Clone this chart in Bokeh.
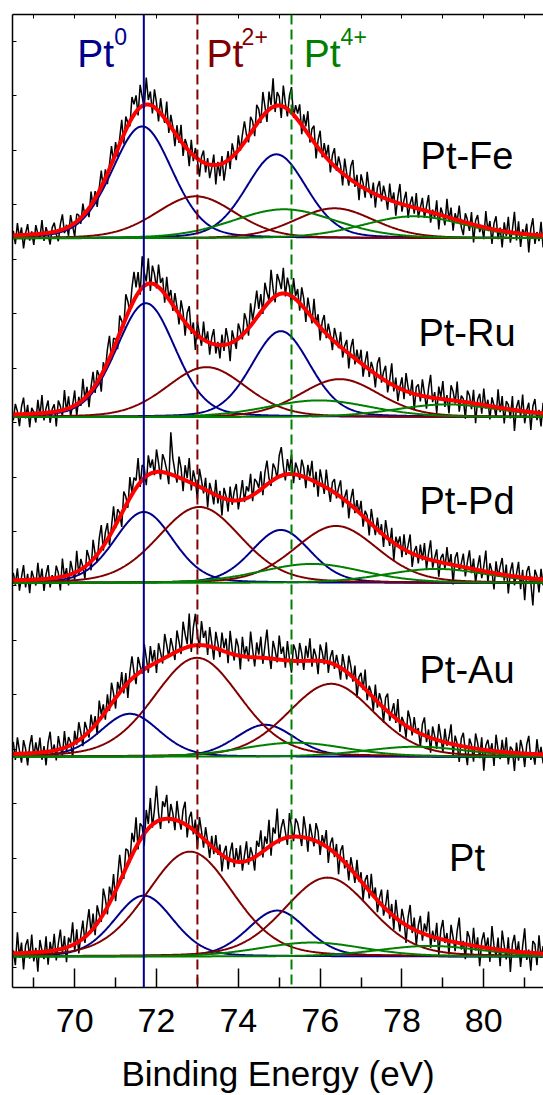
import numpy as np
from bokeh.plotting import figure
from bokeh.models import Range1d, FixedTicker, LinearAxis, Span, ColumnDataSource, CustomLabelingPolicy
from bokeh.embed import file_html
from bokeh.resources import INLINE
from bokeh.core.properties import value

FONT = "Liberation Sans"

# ---------------- data ----------------
samples = ["Pt-Fe", "Pt-Ru", "Pt-Pd", "Pt-Au", "Pt"]
offsets = [750, 571, 405, 231, 31]

# pseudo-Voigt fit components: (4f7/2, 4f5/2) centres, heights and FWHM
pt0_centers = [(71.65, 74.93), (71.74, 75.04), (71.69, 75.04), (71.35, 74.66), (71.69, 74.95)]
pt0_heights = [(112, 84), (114, 86), (71, 53), (43, 32), (61, 46)]
pt0_fwhm = [1.75, 1.7, 1.7, 1.7, 1.7]

pt2_centers = [(72.96, 76.35), (73.22, 76.48), (73.05, 76.39), (72.99, 76.27), (72.82, 76.18)]
pt2_heights = [(42, 30), (50, 38), (76, 57), (99, 73), (105, 79)]
pt2_fwhm = [2.3, 2.3, 2.4, 2.5, 2.5]

pt4_centers = [(75.12, 78.3), (75.97, 79.1), (75.8, 78.85), (75.38, 78.34), (75.8, 78.68)]
pt4_heights = [(29, 22), (16.7, 12.7), (19, 14), (14, 10), (14, 10.6)]
pt4_fwhm = [3.0, 3.0, 3.0, 3.0, 3.0]

# residuals of the measured spectra (data - fit), in steps of 1.5 intensity units,
# sampled every 0.05 eV from 68.5 eV
res_unit = 1.5
fe_res = [3,-6,8,-2,5,-9,1,7,-4,2,-7,6,0,-3,9,-5,4,-1,-8,3,
          6,-2,-7,4,10,-3,2,-6,7,-1,-9,5,3,-4,8,-2,1,-6,9,-3,
          5,-8,2,11,-4,6,-7,3,12,-2,8,-5,4,13,-6,9,2,-3,14,7,
          11,-4,15,6,-2,18,3,9,-5,12,4,-7,10,1,-3,13,-6,8,2,-9,
          7,-3,11,-8,5,2,-10,9,-4,6,-1,-11,3,8,-6,4,-9,-2,7,-13,
          2,-8,5,-12,-3,6,-7,9,1,-5,10,-2,7,14,3,-4,11,6,-6,13,
          8,-3,16,5,-7,12,2,19,-4,9,6,-8,14,3,-5,10,17,-2,8,4,
          12,-6,9,3,15,-4,7,11,-9,5,13,-3,8,1,10,-7,6,12,-2,9,
          4,-8,11,2,-5,9,14,-3,6,-10,8,3,-6,12,1,-4,7,-9,5,10,
          -3,8,2,-7,11,-1,6,-9,4,13,-5,3,9,-8,2,7,-4,10,-6,1,
          8,-5,3,11,-7,2,-3,9,-10,5,1,-6,12,-2,7,-8,4,-1,10,-4,
          -9,6,2,-5,8,-12,3,7,-4,1,-8,11,-2,5,-10,4,9,-6,2,-11,
          6,-3,10,-7,2,14,-5,8,-9,3,-1,7,-12,4,11,-6,2,-4,9,-8,5]
ru_res = [-4,7,2,-8,5,11,-3,6,-9,4,1,-6,9,-2,12,-5,3,8,-7,2,
          5,-10,7,3,-4,13,-2,8,-6,1,10,-8,4,-3,14,-1,6,-9,3,11,
          -5,8,2,-11,6,-2,9,15,-4,7,3,-7,12,5,-3,16,8,-2,11,19,
          6,14,-3,21,9,2,17,-5,12,7,-2,15,4,9,-6,13,1,8,-4,10,
          3,-7,11,5,-9,8,14,-3,6,-11,9,2,-5,12,-1,7,-8,4,10,-6,
          2,-9,7,-4,11,3,-12,8,1,-6,10,4,-3,13,7,-5,15,2,9,18,
          4,12,-3,16,8,1,20,6,-4,14,9,3,17,-2,11,5,-6,13,2,8,
          -5,12,6,-8,10,3,-4,14,-1,7,-9,5,11,-3,8,2,-7,9,4,-2,
          10,-6,3,8,-10,5,12,-4,7,-1,9,-8,3,11,-5,6,2,-9,8,13,
          -3,5,10,-7,2,14,-4,6,-9,1,8,-6,12,3,-2,9,-11,5,7,-4,
          11,2,-8,6,15,-3,4,-10,8,1,12,-5,3,-9,10,6,-2,13,-7,4,
          2,-11,8,5,-4,9,-13,3,7,-6,11,-2,4,-9,6,1,-7,12,-3,8,
          -10,5,3,-6,9,-14,2,7,-4,11,-8,1,6,-12,4,9,-5,2,-9,7,-3]
pd_res = [5,-3,8,-7,2,10,-5,4,-9,6,1,-4,11,-2,7,-8,3,9,-6,2,
          -4,8,3,-9,12,-1,5,-7,9,2,-5,14,-3,7,1,-8,10,4,-6,13,
          2,-5,9,16,-3,7,11,-6,4,15,-2,8,3,-9,12,6,-4,14,1,9,
          5,18,-3,10,7,-6,13,4,9,-2,15,6,-5,12,8,2,-7,28,11,3,
          -4,14,7,-8,10,2,16,-5,9,3,-9,12,5,-3,8,-11,6,1,-7,10,
          -5,4,-12,7,2,-8,9,-3,6,11,-6,3,13,-2,8,4,15,-4,10,7,
          2,12,-5,9,16,3,-3,11,7,-1,14,19,6,-4,10,2,13,-6,8,4,
          -3,11,6,-7,9,2,13,-4,7,-9,10,3,-5,12,1,-8,6,9,-3,5,
          11,-6,2,8,-10,4,12,-3,7,-1,9,-7,5,3,-9,10,2,-5,8,-2,
          6,-8,11,3,-4,9,-12,5,1,7,-6,10,-3,4,12,-9,2,6,-5,8,
          -2,10,-7,4,13,-5,2,8,-10,3,6,-4,11,-1,7,-13,5,9,-3,2,
          9,-6,4,12,-3,7,-9,2,10,-5,3,14,-7,6,1,-11,8,-2,5,11,
          -4,7,-12,3,9,-6,2,10,-8,5,-15,4,8,-3,-18,6,2,-9,7,-4,3]
au_res = [8,-4,11,2,-6,9,3,-8,5,12,-3,7,-1,10,-5,4,-9,6,13,-2,
          4,-7,9,1,-5,11,-3,6,2,-9,8,-2,12,4,-6,9,3,-4,10,-1,
          6,-8,13,2,7,-5,10,-3,14,5,-7,9,1,12,-4,8,-10,6,15,3,
          -6,11,4,-2,17,7,-4,13,2,9,-7,12,5,-3,16,8,-1,11,4,-5,
          14,6,-3,18,9,2,22,-4,12,21,7,-2,16,5,10,-6,13,3,-8,11,
          4,-5,12,2,9,-7,15,3,-4,11,6,-9,13,1,7,-3,17,5,-6,10,
          2,14,-4,8,19,3,-7,12,6,-2,16,4,9,-5,13,1,-8,11,7,-3,
          12,5,-6,10,2,15,-4,8,3,-9,11,6,-2,13,-7,4,9,-3,7,1,
          -8,10,3,-5,12,6,-3,9,-11,4,8,-2,13,-6,5,2,-9,10,-4,7,
          3,-10,8,12,-5,2,9,-3,14,-7,4,1,-8,11,6,-4,9,-1,3,-9,
          7,12,-4,5,-10,8,2,-6,11,3,-7,9,-2,4,13,-8,6,1,-11,5,
          9,-3,-12,6,2,-9,10,4,-6,8,-14,3,7,-2,5,-10,11,1,-5,8,
          -3,10,-8,4,2,-12,7,-5,9,3,-9,6,12,-4,1,-7,10,-2,5,-6,4]
pt_res = [2,-8,14,-3,7,-11,5,9,-4,12,-6,3,-13,8,1,-5,10,-9,6,-2,
          11,-7,4,13,-3,8,-10,6,2,15,-5,9,-8,3,12,-4,7,16,-1,10,
          -6,12,4,-3,17,8,-5,11,2,14,-7,6,18,3,-4,13,9,-2,15,6,
          20,-4,11,7,-8,14,3,19,-2,9,24,5,-6,12,8,16,-3,10,4,-7,
          13,2,-5,9,15,-8,6,11,-3,8,-10,12,4,-6,9,1,-9,7,-4,10,
          -2,6,-11,3,8,-7,5,12,-4,9,-1,11,-6,4,13,-3,8,2,-9,10,
          5,15,-4,9,3,18,-7,11,6,22,-2,8,13,4,-5,16,7,-3,12,9,
          2,-6,14,5,-9,10,3,-4,12,7,-8,6,1,11,-10,4,9,-3,7,-12,
          5,10,-4,3,-9,8,2,-6,11,-2,6,-11,4,9,-5,13,-1,7,-8,3,
          10,-6,2,14,-4,7,-9,12,1,-7,9,3,-12,6,15,-3,8,-10,4,11,
          -5,7,2,16,-8,4,-3,10,-11,6,13,-2,5,-9,11,3,-6,8,17,-4,
          2,-10,9,5,-7,12,-3,6,-13,4,10,-1,7,-9,15,2,-5,8,-11,13,
          3,-6,9,-14,5,11,-2,7,-10,4,16,-5,2,-12,8,6,-8,12,-3,5,-9]
residuals = [fe_res, ru_res, pd_res, au_res, pt_res]

ref_lines = [71.69, 73.0, 75.3]
x_ticks = [70, 72, 74, 76, 78, 80]
x_minor = [69, 71, 73, 75, 77, 79, 81]
top_ticks = list(range(69, 82))
y_ticks = [20.5, 75, 129.5, 184, 238.5, 293, 347.5, 402, 456.5, 511,
           565.5, 620, 674.5, 729, 783.5, 838, 892.5, 947]

BLUE = "#00008b"
MAROON = "#800000"
GREEN = "#008000"


def pv(x, c, h, w, m=0.2):
    u = 4.0 * (x - c) ** 2 / w ** 2
    return h * ((1 - m) * np.exp(-np.log(2) * u) + m / (1 + u))


p = figure(width=543, height=1095, x_range=Range1d(68.48, 81.46), y_range=Range1d(0, 974),
           output_backend="svg", toolbar_location=None,
           min_border_left=12, min_border_right=0, min_border_top=14, min_border_bottom=107)
p.outline_line_color = None
p.grid.visible = False

xs = np.linspace(68.3, 81.7, 671)

# raw spectra
for i in range(5):
    res = np.array(residuals[i], dtype=float) * res_unit
    e = 68.5 + 0.05 * np.arange(len(res))
    fit = np.zeros_like(e)
    for cen, hts, w in ((pt0_centers[i], pt0_heights[i], pt0_fwhm[i]),
                        (pt2_centers[i], pt2_heights[i], pt2_fwhm[i]),
                        (pt4_centers[i], pt4_heights[i], pt4_fwhm[i])):
        for c, h in zip(cen, hts):
            fit += pv(e, c, h, w)
    p.line(e, offsets[i] + fit + res, line_color="black", line_width=1.5)

# reference lines
for loc, col, dash in zip(ref_lines, [BLUE, MAROON, GREEN], ["solid", "10 5", "10 5"]):
    p.add_layout(Span(location=loc, dimension="height", line_color=col,
                      line_width=2, line_dash=dash))

# components and envelope
for i in range(5):
    total = np.zeros_like(xs)
    for cen, hts, w, col in ((pt0_centers[i], pt0_heights[i], pt0_fwhm[i], BLUE),
                             (pt2_centers[i], pt2_heights[i], pt2_fwhm[i], MAROON),
                             (pt4_centers[i], pt4_heights[i], pt4_fwhm[i], GREEN)):
        for c, h in zip(cen, hts):
            comp = pv(xs, c, h, w)
            total += comp
            p.line(xs, offsets[i] + comp, line_color=col, line_width=2)
    p.line(xs, offsets[i] + total, line_color="#ff0000", line_width=4)

# sample labels
label_dy = [82, 84, 82, 87, 99]
lab = ColumnDataSource(dict(x=[79.59] * 5, y=[o + d for o, d in zip(offsets, label_dy)], t=samples))
p.text(x="x", y="y", text="t", source=lab, text_font=value(FONT), text_font_size="38px",
       text_align="center", text_baseline="middle", text_color="black")

# oxidation state labels
st = ColumnDataSource(dict(x=[70.06, 73.22, 75.60], y=[935] * 3, t=["Pt", "Pt", "Pt"],
                           c=[BLUE, MAROON, GREEN]))
p.text(x="x", y="y", text="t", source=st, text_font=value(FONT), text_font_size="39px",
       text_align="left", text_baseline="middle", text_color="c")
sup = ColumnDataSource(dict(x=[70.97, 74.08, 76.50], y=[951.5] * 3, t=["0", "2+", "4+"],
                            c=[BLUE, MAROON, GREEN]))
p.text(x="x", y="y", text="t", source=sup, text_font=value(FONT), text_font_size="23px",
       text_align="left", text_baseline="middle", text_color="c")

# axes
xa = p.xaxis[0]
xa.ticker = FixedTicker(ticks=x_ticks, minor_ticks=x_minor)
xa.axis_label = "Binding Energy (eV)"
xa.axis_label_text_font = FONT
xa.axis_label_text_font_size = "35px"
xa.axis_label_text_font_style = "normal"
xa.axis_label_text_color = "black"
xa.axis_label_standoff = 19
xa.major_label_text_font = FONT
xa.major_label_text_font_size = "34px"
xa.major_label_text_color = "black"
xa.major_label_standoff = 21
xa.major_tick_in = 19
xa.major_tick_out = 0
xa.minor_tick_in = 10
xa.minor_tick_out = 0
xa.axis_line_width = 1.5
xa.major_tick_line_width = 1.5
xa.minor_tick_line_width = 1.5

ya = p.yaxis[0]
ya.ticker = FixedTicker(ticks=y_ticks, minor_ticks=[])
ya.major_label_policy = CustomLabelingPolicy(code="return new Set()")
ya.major_label_text_font_size = "1px"
ya.major_label_standoff = 0
ya.major_tick_in = 4
ya.major_tick_out = 0
ya.minor_tick_in = 0
ya.minor_tick_out = 0
ya.axis_line_width = 1.5

top = LinearAxis(ticker=FixedTicker(ticks=top_ticks, minor_ticks=[]),
                 major_label_policy=CustomLabelingPolicy(code="return new Set()"),
                 major_label_text_font_size="1px", major_label_standoff=0,
                 major_tick_in=4, major_tick_out=0, minor_tick_in=0, minor_tick_out=0,
                 axis_line_width=1.5)
p.add_layout(top, "above")

open("out.html", "w").write(file_html(p, INLINE))
